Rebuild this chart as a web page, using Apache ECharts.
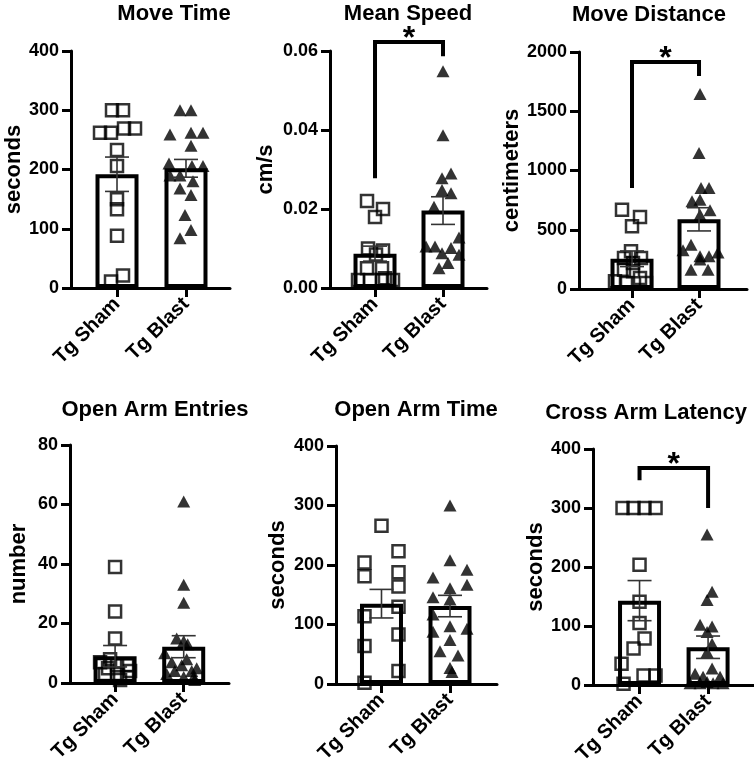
<!DOCTYPE html>
<html><head><meta charset="utf-8">
<script src="https://cdn.jsdelivr.net/npm/echarts@6/dist/echarts.min.js"></script>
<style>html,body{margin:0;padding:0;background:#fff}#c{width:754px;height:765px}</style>
</head><body><div id="c"></div>
<script>
const groups = ['Tg Sham', 'Tg Blast'];
const titles = ['Move Time', 'Mean Speed', 'Move Distance', 'Open Arm Entries', 'Open Arm Time', 'Cross Arm Latency'];
const yNames = ['seconds', 'cm/s', 'centimeters', 'number', 'seconds', 'seconds'];
const yMax = [400, 0.06, 2000, 80, 400, 400];
const yInterval = [100, 0.02, 500, 20, 100, 100];

// Move Time
const moveTimeSham = [300, 300, 262, 262, 269, 269, 233, 206, 150, 133, 88, 21, 11];
const moveTimeBlast = [300, 300, 259, 262, 262, 240, 210, 206, 206, 190, 190, 180, 168, 157, 123, 98, 84];
const moveTimeMean = [192, 202];
const moveTimeSem = [29, 15];
// Mean Speed
const meanSpeedSham = [0.022, 0.020, 0.018, 0.010, 0.0095, 0.0085, 0.005, 0.005, 0.002, 0.002, 0.002, 0.002, 0.0025];
const meanSpeedBlast = [0.0549, 0.0387, 0.029, 0.0278, 0.0248, 0.024, 0.0206, 0.0128, 0.0105, 0.0105, 0.0101, 0.0088, 0.0084, 0.0063, 0.005];
const meanSpeedMean = [0.0087, 0.0196];
const meanSpeedSem = [0.0019, 0.0035];
const meanSpeedSig = [1, 2, 0.0623, 0.0278, 0.0587];
// Move Distance
const moveDistSham = [669, 608, 529, 318, 262, 262, 219, 163, 149, 93, 65, 51, 51];
const moveDistBlast = [1646, 1148, 852, 852, 754, 740, 664, 627, 374, 326, 309, 276, 276, 248, 163, 163];
const moveDistMean = [255, 588];
const moveDistSem = [66, 98];
const moveDistSig = [1, 2, 1916, 852, 1797];
// Open Arm Entries
const entriesSham = [39, 24, 15, 8, 7, 6, 6, 5, 4, 3, 3, 2, 1];
const entriesBlast = [61, 33, 27, 15, 14, 13, 10, 8, 7, 6, 5, 4, 4, 3, 2, 2, 1];
const entriesMean = [9.0, 12.2];
const entriesSem = [3.6, 3.7];
// Open Arm Time
const openTimeSham = [266, 223, 204, 188, 181, 164, 130, 114, 83, 64, 22, 2];
const openTimeBlast = [300, 208, 192, 179, 167, 161, 146, 142, 117, 97, 93, 88, 74, 55, 48, 27, 20];
const openTimeMean = [135, 131];
const openTimeSem = [24, 18];
// Cross Arm Latency
const latencySham = [300, 300, 300, 300, 204, 141, 105, 79, 62, 36, 16, 16, 2];
const latencyBlast = [255, 158, 144, 102, 99, 90, 70, 56, 28, 19, 14, 14, 5, 3, 3, 3, 3];
const latencyMean = [143, 64];
const latencySem = [34, 19];
const latencySig = [1, 2, 368, 347, 300];

// horizontal spread of the dots (px), layout only
const moveTimeShamJit = [-5, 6, -17, -6, 7, 18, 0, 0, 0, 0, 0, 6, -6];
const moveTimeBlastJit = [-6, 5, -16, 5, 17, 5, -17, 6, 17, -16, -6, 7, -6, 5, -1, 5, -6];
const meanSpeedShamJit = [-8, 8, 0, -7, 8, 1, -8, 7, -17, -5, 7, 18, 10];
const meanSpeedBlastJit = [0, 0, 8, -1, -1, 8, -9, 16, -17, -8, 8, -1, 16, 5, -4];
const moveDistShamJit = [-10, 8, 0, -1, -8, 9, 1, -8, 1, 8, -17, 14, -6];
const moveDistBlastJit = [1, 0, 2, 10, 1, -7, 11, 1, -8, -16, 19, 1, 10, 1, -8, 9];
const entriesShamJit = [0, 0, 0, -5, -15, 12, 2, -7, 15, -10, 2, 12, 5];
const entriesBlastJit = [0, 0, 0, -7, 0, 4, -19, 3, -12, -2, 13, 8, -9, -17, 0, 10, 11];
const openTimeShamJit = [0, 17, -17, 17, -17, 17, 17, -17, 17, -17, 17, -17];
const openTimeBlastJit = [0, 0, 17, -17, 17, 0, -17, 0, -17, 0, 17, -17, 0, -10, 8, 0, 2];
const latencyShamJit = [-17, -6, 5, 16, 0, 0, 0, 5, -6, -18, 4, 16, -16];
const latencyBlastJit = [-1, 4, -1, -8, 4, -1, 4, -1, 4, -13, -5, 12, -1, -18, -8, 5, 15];

const panels = [
  {sham: moveTimeSham, blast: moveTimeBlast, mean: moveTimeMean, sem: moveTimeSem, sj: moveTimeShamJit, bj: moveTimeBlastJit, sig: null},
  {sham: meanSpeedSham, blast: meanSpeedBlast, mean: meanSpeedMean, sem: meanSpeedSem, sj: meanSpeedShamJit, bj: meanSpeedBlastJit, sig: meanSpeedSig},
  {sham: moveDistSham, blast: moveDistBlast, mean: moveDistMean, sem: moveDistSem, sj: moveDistShamJit, bj: moveDistBlastJit, sig: moveDistSig},
  {sham: entriesSham, blast: entriesBlast, mean: entriesMean, sem: entriesSem, sj: entriesShamJit, bj: entriesBlastJit, sig: null},
  {sham: openTimeSham, blast: openTimeBlast, mean: openTimeMean, sem: openTimeSem, sj: openTimeShamJit, bj: openTimeBlastJit, sig: null},
  {sham: latencySham, blast: latencyBlast, mean: latencyMean, sem: latencySem, sj: latencyShamJit, bj: latencyBlastJit, sig: latencySig}
];

// layout
const gridBoxes = [
  {left: 71, top: 51, width: 159, height: 237, xmin: 0.333, xmax: 2.638, gap: 45, tx: 174, ty: 14},
  {left: 330, top: 51, width: 157, height: 237, xmin: 0.338, xmax: 2.647, gap: 53, tx: 408, ty: 14},
  {left: 579, top: 52, width: 168, height: 237, xmin: 0.209, xmax: 2.716, gap: 45, tx: 649, ty: 15},
  {left: 70, top: 445, width: 159, height: 238, xmin: 0.343, xmax: 2.66, gap: 40, tx: 155, ty: 410},
  {left: 336, top: 446, width: 161, height: 238, xmin: 0.336, xmax: 2.686, gap: 47, tx: 416, ty: 410},
  {left: 593, top: 449, width: 161, height: 236, xmin: 0.321, xmax: 2.67, gap: 46, tx: 646, ty: 413}
];
const FONT = '"Liberation Sans", Arial, sans-serif';

const grid = [], xAxis = [], yAxis = [], series = [], graphic = [];
gridBoxes.forEach((g, i) => {
  grid.push({left: g.left, top: g.top, width: g.width, height: g.height, containLabel: false, outerBoundsMode: 'none'});
  xAxis.push({
    type: 'value', gridIndex: i, min: g.xmin, max: g.xmax,
    splitLine: {show: false},
    axisLine: {show: true, onZero: false, lineStyle: {color: '#000', width: 3}},
    axisTick: {show: true, customValues: [1, 2], length: 9, lineStyle: {color: '#000', width: 3}},
    axisLabel: {show: true, customValues: [1, 2], formatter: v => groups[Math.round(v) - 1] || '',
      rotate: 45, margin: 13, color: '#000', fontSize: 20, fontWeight: 'bold', fontFamily: FONT}
  });
  yAxis.push({
    type: 'value', gridIndex: i, min: 0, max: yMax[i], interval: yInterval[i],
    name: yNames[i], nameLocation: 'middle', nameGap: g.gap,
    nameTextStyle: {color: '#000', fontSize: 22, fontWeight: 'bold', fontFamily: FONT},
    splitLine: {show: false},
    axisLine: {show: true, lineStyle: {color: '#000', width: 3}},
    axisTick: {show: true, length: 9, lineStyle: {color: '#000', width: 3}},
    axisLabel: {color: '#000', fontSize: 18, fontWeight: 'bold', fontFamily: FONT, margin: 12,
      formatter: i === 1 ? (v => v.toFixed(2)) : (v => String(v))}
  });
  graphic.push({type: 'text', x: g.tx, y: g.ty, z: 10,
    style: {text: titles[i], fill: '#000', fontSize: 22, fontWeight: 'bold', fontFamily: FONT,
      align: 'center', verticalAlign: 'middle'}});

  const p = panels[i];
  series.push({
    type: 'bar', xAxisIndex: i, yAxisIndex: i, barWidth: 43, z: 1,
    data: [[1, p.mean[0]], [2, p.mean[1]]],
    itemStyle: {color: 'rgba(255,255,255,0)', borderColor: '#000', borderWidth: 4}
  });
  series.push({
    type: 'scatter', xAxisIndex: i, yAxisIndex: i, symbol: 'rect', symbolSize: 12, z: 3,
    data: p.sham.map((v, k) => ({value: [1, v], symbolOffset: [p.sj[k] || 0, 0]})),
    itemStyle: {color: 'rgba(255,255,255,0)', borderColor: '#000', borderWidth: 2.5}
  });
  series.push({
    type: 'scatter', xAxisIndex: i, yAxisIndex: i, symbol: 'triangle', symbolSize: [13, 12], z: 3,
    data: p.blast.map((v, k) => ({value: [2, v], symbolOffset: [p.bj[k] || 0, 0]})),
    itemStyle: {color: '#000'}
  });
  series.push({
    type: 'custom', xAxisIndex: i, yAxisIndex: i, z: 4, clip: false,
    data: [[1, p.mean[0], p.sem[0]], [2, p.mean[1], p.sem[1]]],
    renderItem: (params, api) => {
      const x = api.value(0), m = api.value(1), s = api.value(2);
      const t = api.coord([x, m + s]), b = api.coord([x, m - s]);
      const st = {stroke: '#333', lineWidth: 1.6};
      const w = 12;
      return {type: 'group', children: [
        {type: 'line', shape: {x1: t[0], y1: t[1], x2: b[0], y2: b[1]}, style: st},
        {type: 'line', shape: {x1: t[0] - w, y1: t[1], x2: t[0] + w, y2: t[1]}, style: st},
        {type: 'line', shape: {x1: b[0] - w, y1: b[1], x2: b[0] + w, y2: b[1]}, style: st}
      ]};
    }
  });
  if (p.sig) {
    series.push({
      type: 'custom', xAxisIndex: i, yAxisIndex: i, z: 5, clip: false,
      data: [p.sig],
      renderItem: (params, api) => {
        const x1 = api.value(0), x2 = api.value(1), top = api.value(2), lb = api.value(3), rb = api.value(4);
        const a = api.coord([x1, lb]), b = api.coord([x1, top]), c = api.coord([x2, top]), d = api.coord([x2, rb]);
        return {type: 'group', children: [
          {type: 'polyline', shape: {points: [a, b, c, d]}, style: {stroke: '#000', lineWidth: 4, fill: 'none'}},
          {type: 'text', x: (b[0] + c[0]) / 2, y: b[1] - 3,
            style: {text: '*', fill: '#000', fontSize: 32, fontWeight: 'bold', fontFamily: FONT, align: 'center', verticalAlign: 'middle'}}
        ]};
      }
    });
  }
});

const chart = echarts.init(document.getElementById('c'), null, {renderer: 'canvas'});
chart.setOption({animation: false, backgroundColor: '#fff', grid, xAxis, yAxis, series, graphic});
</script>
</body></html>
